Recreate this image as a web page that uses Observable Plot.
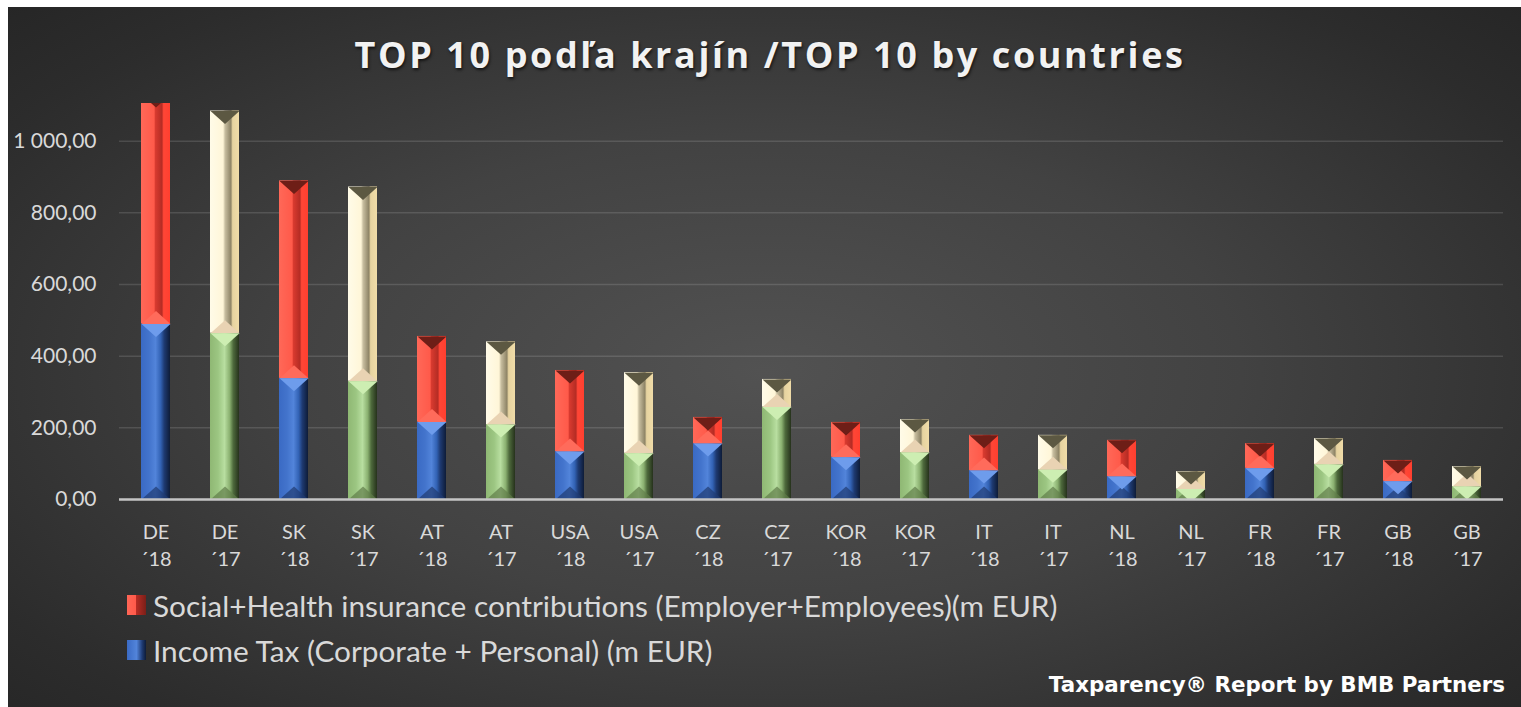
<!DOCTYPE html>
<html>
<head>
<meta charset="utf-8">
<script src="https://cdn.jsdelivr.net/npm/d3@7"></script>
<script src="https://cdn.jsdelivr.net/npm/@observablehq/plot@0.6"></script>
<style>
  html, body { margin: 0; padding: 0; background: #ffffff; }
  #wrap { position: relative; width: 1521px; height: 707px; overflow: hidden; background: #ffffff; font-family: Lato, "Open Sans", sans-serif; }
  #panel { position: absolute; left: 8px; top: 7px; width: 1513px; height: 700px;
    background: radial-gradient(ellipse 70% 75% at 50% 52%, #525252 0%, #424242 45%, #2c2c2c 85%, #262626 100%); }
  #title { position: absolute; left: 0; width: 1540px; top: 33px; text-align: center; font-family: "Open Sans", Lato, sans-serif;
    font-weight: 700; font-size: 36px; letter-spacing: 2.6px; color: #f2f2f2; text-shadow: 1px 2px 3px rgba(0,0,0,0.65); white-space: nowrap; line-height: 1.2; }
  #chart { position: absolute; left: 0; top: 0; }
  .leg { position: absolute; left: 127px; height: 28px; display: flex; align-items: center; color: #d9d9d9; font-size: 29.8px; white-space: nowrap; }
  .sw { width: 19px; height: 20px; margin-right: 7px; flex: none; }
  #caption { position: absolute; right: 16px; top: 673px; font-family: "DejaVu Sans", Verdana, sans-serif; font-weight: 700; font-size: 21.4px; color: #ffffff; white-space: nowrap; line-height: 1.1; }
</style>
</head>
<body>
<div id="wrap">
  <div id="panel"></div>
  <div id="title">TOP 10 podľa krajín /TOP 10 by countries</div>
  <div id="chart"></div>
  <div class="leg" id="leg1" style="top: 591px;"><div class="sw" style="background: linear-gradient(90deg, #ff6656 0%, #ff5a4a 45%, #b52c24 50%, #7a1f18 100%);"></div><span>Social+Health insurance contributions (Employer+Employees)(m EUR)</span></div>
  <div class="leg" id="leg2" style="top: 636px;"><div class="sw" style="background: linear-gradient(90deg, #3a6ac4 0%, #5284da 50%, #1e3a72 80%, #0e1c38 100%);"></div><span>Income Tax (Corporate + Personal) (m EUR)</span></div>
  <div id="caption">Taxparency® Report by BMB Partners</div>
</div>
<script>
// ---- data ----
const countries = ["DE","DE","SK","SK","AT","AT","USA","USA","CZ","CZ","KOR","KOR","IT","IT","NL","NL","FR","FR","GB","GB"];
const years = ["´18","´17","´18","´17","´18","´17","´18","´17","´18","´17","´18","´17","´18","´17","´18","´17","´18","´17","´18","´17"];
const incomeTax = [490, 464, 338, 330, 216, 209, 134, 129, 156, 258, 118, 131, 81, 83, 64, 29, 87, 98, 51, 36];
const socialHealth = [640, 620, 551, 542, 239, 231, 226, 225, 73, 77, 97, 92, 98, 96, 101, 49, 69, 72, 58, 56];
const yTicks = [0, 200, 400, 600, 800, 1000];

const rows = countries.map((c, i) => ({
  key: c + "\n" + years[i],
  year: years[i],
  income: incomeTax[i],
  social: socialHealth[i],
  total: incomeTax[i] + socialHealth[i]
}));
const r18 = rows.filter(d => d.year === "´18");
const r17 = rows.filter(d => d.year === "´17");

const fmt = v => d3.format(",.2f")(v).replace(/,/g, " ").replace(".", ",");

const HW = 14.5, TH = 13;
const triDown = {draw(ctx) { ctx.moveTo(-HW, 0); ctx.lineTo(HW, 0); ctx.lineTo(0, TH); ctx.closePath(); }};
const triUp = {draw(ctx) { ctx.moveTo(-HW, 0); ctx.lineTo(HW, 0); ctx.lineTo(0, -TH); ctx.closePath(); }};

const chart = Plot.plot({
  width: 1521,
  height: 580,
  marginLeft: 119,
  marginRight: 18,
  marginTop: 103,
  marginBottom: 81,
  style: {background: "transparent", color: "#d9d9d9", fontFamily: "Lato, 'Open Sans', sans-serif"},
  x: {domain: rows.map(d => d.key), paddingInner: 0.58, paddingOuter: 0.29, label: null},
  y: {domain: [0, 1105], label: null},
  marks: [
    Plot.gridY(yTicks, {stroke: "#ffffff", strokeOpacity: 0.13, strokeWidth: 1.5}),
    Plot.axisY(yTicks, {tickSize: 0, tickPadding: 23, fontSize: 21, tickFormat: fmt, fill: "#d9d9d9"}),
    Plot.axisX({tickSize: 0, tickPadding: 20, fontSize: 20, lineHeight: 1.36, fill: "#d9d9d9", tickFormat: d => d}),
    // income tax segments
    Plot.barY(r18, {x: "key", y1: 0, y2: "income", fill: "url(#gBlue)", clip: true}),
    Plot.barY(r17, {x: "key", y1: 0, y2: "income", fill: "url(#gGreen)", clip: true}),
    // social + health segments
    Plot.barY(r18, {x: "key", y1: "income", y2: "total", fill: "url(#gRed)", clip: true}),
    Plot.barY(r17, {x: "key", y1: "income", y2: "total", fill: "url(#gCream)", clip: true}),
    // bevel facets
    Plot.dot(r18, {x: "key", y: 0, symbol: triUp, r: 5, fill: "#1f3a70", fillOpacity: 0.7, stroke: null, clip: true}),
    Plot.dot(r17, {x: "key", y: 0, symbol: triUp, r: 5, fill: "#5f7c48", fillOpacity: 0.7, stroke: null, clip: true}),
    Plot.dot(r18, {x: "key", y: "income", symbol: triUp, r: 5, fill: "#ff6b5b", stroke: null, clip: true}),
    Plot.dot(r17, {x: "key", y: "income", symbol: triUp, r: 5, fill: "#e9d3b3", stroke: null, clip: true}),
    Plot.dot(r18, {x: "key", y: "income", symbol: triDown, r: 5, fill: "#6e9cec", stroke: null, clip: true}),
    Plot.dot(r17, {x: "key", y: "income", symbol: triDown, r: 5, fill: "#cdeeb2", stroke: null, clip: true}),
    Plot.dot(r18, {x: "key", y: "total", symbol: triDown, r: 5, fill: "#6e1e17", stroke: null, clip: true}),
    Plot.dot(r17, {x: "key", y: "total", symbol: triDown, r: 5, fill: "#5c5842", stroke: null, clip: true}),
    Plot.ruleY([0], {stroke: "#c4c4c4", strokeWidth: 2.5})
  ]
});

// gradient definitions for the bevelled bar look
const defs = `
<defs>
  <linearGradient id="gBlue" x1="0" x2="1" y1="0" y2="0">
    <stop offset="0" stop-color="#3a6ac4"/><stop offset="0.28" stop-color="#4374cc"/>
    <stop offset="0.5" stop-color="#5284da"/><stop offset="0.68" stop-color="#3262b4"/>
    <stop offset="0.8" stop-color="#1e3a72"/><stop offset="1" stop-color="#0e1c38"/>
  </linearGradient>
  <linearGradient id="gGreen" x1="0" x2="1" y1="0" y2="0">
    <stop offset="0" stop-color="#8fb874"/><stop offset="0.28" stop-color="#9cc682"/>
    <stop offset="0.5" stop-color="#b8dea0"/><stop offset="0.68" stop-color="#8ab070"/>
    <stop offset="0.8" stop-color="#4e6a3c"/><stop offset="1" stop-color="#26321c"/>
  </linearGradient>
  <linearGradient id="gRed" x1="0" x2="1" y1="0" y2="0">
    <stop offset="0" stop-color="#ff6858"/><stop offset="0.45" stop-color="#ff5a4a"/>
    <stop offset="0.5" stop-color="#d83a2f"/><stop offset="0.72" stop-color="#b52c24"/>
    <stop offset="0.78" stop-color="#ff4636"/><stop offset="1" stop-color="#ff3f2f"/>
  </linearGradient>
  <linearGradient id="gCream" x1="0" x2="1" y1="0" y2="0">
    <stop offset="0" stop-color="#fffbe8"/><stop offset="0.45" stop-color="#fff6d8"/>
    <stop offset="0.52" stop-color="#c8bea0"/><stop offset="0.72" stop-color="#8e8466"/>
    <stop offset="0.78" stop-color="#e6d3a0"/><stop offset="1" stop-color="#f0dca8"/>
  </linearGradient>
</defs>`;
chart.insertAdjacentHTML("afterbegin", defs);
document.getElementById("chart").appendChild(chart);
</script>
</body>
</html>
